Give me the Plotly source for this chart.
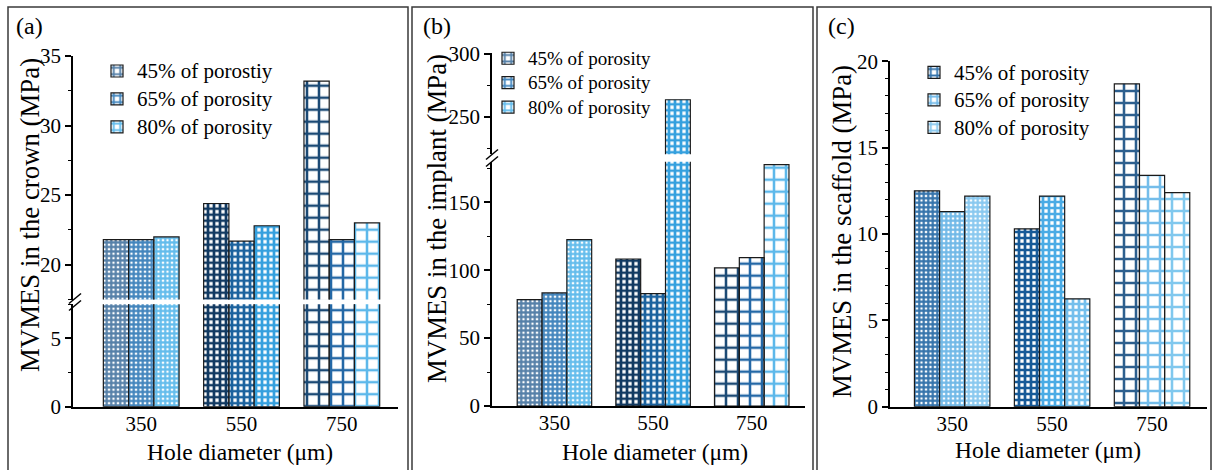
import plotly.graph_objects as go

# ---- data -------------------------------------------------------------
categories = ["350", "550", "750"]

crown_labels = ["45% of porostiy", "65% of porosity", "80% of porosity"]
porosity_labels = ["45% of porosity", "65% of porosity", "80% of porosity"]

crown_45 = [21.8, 24.4, 33.2]
crown_65 = [21.8, 21.7, 21.8]
crown_80 = [22.0, 22.8, 23.0]

implant_45 = [78.4, 108.3, 101.7]
implant_65 = [83.3, 82.8, 109.3]
implant_80 = [122.6, 263.3, 177.9]

scaffold_45 = [12.5, 10.3, 18.7]
scaffold_65 = [11.3, 12.2, 13.4]
scaffold_80 = [12.2, 6.25, 12.4]

# ---- styling ----------------------------------------------------------
W, H = 1214, 470
FONT = "Liberation Serif"


def px(x):
    return x / W


def py(y):
    return (H - y) / H


# grid pattern per hole diameter: fine mesh, coarse mesh, open grid
SHAPES = ["+", "+", "+"]
SIZES = [4.5, 6, 12]
SOLIDITY = [0.74, 0.7, 0.38]

# line colour of the mesh for 45 / 65 / 80 % porosity (per hole diameter)
AB_COLORS = [
    ["#5580a8", "#123a62", "#1c4a75"],
    ["#4285bd", "#1b629e", "#2468a6"],
    ["#62bcec", "#35a0de", "#5db8ea"],
]
C_COLORS = [
    ["#3473ab", "#175a98", "#2d5f8e"],
    ["#6fb8e7", "#4aabe5", "#74bdea"],
    ["#88c8ef", "#74bfec", "#80c8ee"],
]


def sized(text, size):
    return f'<span style="font-size:{size}px">{text}</span>'


def bar(values, name, colors, xa, ya, legend, showlegend):
    return go.Bar(
        x=categories, y=values, name=name,
        xaxis=xa, yaxis=ya, legend=legend, showlegend=showlegend,
        marker=dict(
            color=colors,
            line=dict(color="#1a1a1a", width=1.2),
            pattern=dict(shape=SHAPES, size=SIZES, solidity=SOLIDITY,
                         fgcolor=colors, bgcolor="white", fillmode="replace"),
        ),
        hoverinfo="skip",
    )


fig = go.Figure()

panels = [
    ([crown_45, crown_65, crown_80], crown_labels, 21, AB_COLORS, ("x", "y"), ("x2", "y2"), "legend"),
    ([implant_45, implant_65, implant_80], porosity_labels, 19, AB_COLORS, ("x3", "y3"), ("x4", "y4"), "legend2"),
    ([scaffold_45, scaffold_65, scaffold_80], porosity_labels, 21, C_COLORS, ("x5", "y5"), None, "legend3"),
]

for series, labels, lsize, colors, lower, upper, leg in panels:
    for vals, lab, col in zip(series, labels, colors):
        name = sized(lab, lsize)
        fig.add_trace(bar(vals, name, col, lower[0], lower[1], leg, True))
        if upper is not None:
            fig.add_trace(bar(vals, name, col, upper[0], upper[1], leg, False))

TICKFONT = dict(family=FONT, size=21, color="black")


def yax(domain, rng, tickvals, minor_dtick, anchor):
    return dict(
        domain=domain, range=rng, anchor=anchor, automargin=False,
        tickmode="array", tickvals=tickvals,
        showline=True, linecolor="black", linewidth=1.5,
        ticks="outside", ticklen=6, tickwidth=1.5, tickcolor="black",
        minor=dict(ticks="outside", ticklen=3.5, tickwidth=1.2,
                   tickcolor="black", dtick=minor_dtick, tick0=0),
        showgrid=False, zeroline=False, tickfont=TICKFONT,
    )


def xax(domain, rng, anchor, visible=True, matches=None):
    d = dict(
        domain=domain, range=rng, anchor=anchor, type="category", automargin=False,
        showline=visible, linecolor="black", linewidth=1.5,
        ticks="", showgrid=False, zeroline=False, ticklabelstandoff=-3,
        showticklabels=visible, tickfont=TICKFONT, visible=visible,
    )
    if matches:
        d["matches"] = matches
    return d


xa_dom = [px(73), px(398)]
xb_dom = [px(492), px(805)]
xc_dom = [px(890), px(1207)]

LEG = dict(xanchor="left", yanchor="top", bgcolor="rgba(0,0,0,0)", borderwidth=0)

fig.update_layout(
    template="none",
    width=W, height=H,
    margin=dict(l=0, r=0, t=0, b=0, pad=0),
    paper_bgcolor="white", plot_bgcolor="white",
    barmode="group", bargap=0.245, bargroupgap=0,
    font=dict(family=FONT, color="black"),
    # panel (a): broken axis 0-7.5 / 17.5-35
    xaxis=xax(xa_dom, [-0.68, 2.56], "y"),
    yaxis=yax([py(406.7), py(304.2)], [0, 7.5], [0, 5], 2.5, "x"),
    xaxis2=xax(xa_dom, [-0.68, 2.56], "y2", visible=False, matches="x"),
    yaxis2=yax([py(299.5), py(55.7)], [17.5, 35.02], [20, 25, 30, 35], 2.5, "x2"),
    # panel (b): broken axis 0-180 / 220-300
    xaxis3=xax(xb_dom, [-0.633, 2.54], "y3"),
    yaxis3=yax([py(406), py(161.7)], [0, 180], [0, 50, 100, 150], 25, "x3"),
    xaxis4=xax(xb_dom, [-0.633, 2.54], "y4", visible=False, matches="x3"),
    yaxis4=yax([py(154.3), py(53.3)], [220, 300.2], [250, 300], 25, "x4"),
    # panel (c)
    xaxis5=xax(xc_dom, [-0.622, 2.55], "y5"),
    yaxis5=yax([py(406.7), py(61)], [0, 20.02], [0, 5, 10, 15, 20], 1, "x5"),
    # legend row pitch follows the legend font size; label text size is set per entry
    legend=dict(x=px(97), y=py(52), font=dict(family=FONT, size=19.2, color="black"), **LEG),
    legend2=dict(x=px(488), y=py(41), font=dict(family=FONT, size=16.5, color="black"), **LEG),
    legend3=dict(x=px(914), y=py(53.5), font=dict(family=FONT, size=18.9, color="black"), **LEG),
)

# panel frames
shapes = []
for x0, x1 in [(8, 408), (412, 813), (817, 1211)]:
    shapes.append(dict(type="rect", xref="paper", yref="paper",
                       x0=px(x0), x1=px(x1), y0=py(490), y1=py(7),
                       line=dict(color="#3a3a3a", width=1.5), fillcolor="rgba(0,0,0,0)"))

# axis-break marks
for cx, cy in [(75, 302), (492, 158)]:
    for dy in (-3.5, 3.5):
        shapes.append(dict(type="line", xref="paper", yref="paper",
                           x0=px(cx - 6), y0=py(cy + dy + 5),
                           x1=px(cx + 6), y1=py(cy + dy - 5),
                           line=dict(color="black", width=1.5)))
fig.update_layout(shapes=shapes)

ann = []
for text, x, y in [("(a)", 14, 26), ("(b)", 421, 26), ("(c)", 826, 26)]:
    ann.append(dict(text=text, x=px(x), y=py(y), xref="paper", yref="paper",
                    xanchor="left", yanchor="middle", showarrow=False,
                    font=dict(family=FONT, size=24, color="black")))
for text, x, y in [("MVMES in the crown (MPa)", 30, 215),
                   ("MVMES in the implant (MPa)", 437, 219),
                   ("MVMES in the scaffold (MPa)", 842, 232)]:
    ann.append(dict(text=text, x=px(x), y=py(y), xref="paper", yref="paper",
                    xanchor="center", yanchor="middle", textangle=-90, showarrow=False,
                    font=dict(family=FONT, size=26.8, color="black")))
for x, y in [(240, 452), (655, 452), (1048, 450)]:
    ann.append(dict(text="Hole diameter (μm)", x=px(x), y=py(y), xref="paper", yref="paper",
                    xanchor="center", yanchor="middle", showarrow=False,
                    font=dict(family=FONT, size=23.5, color="black")))
fig.update_layout(annotations=ann)

fig.write_html("out.html")
